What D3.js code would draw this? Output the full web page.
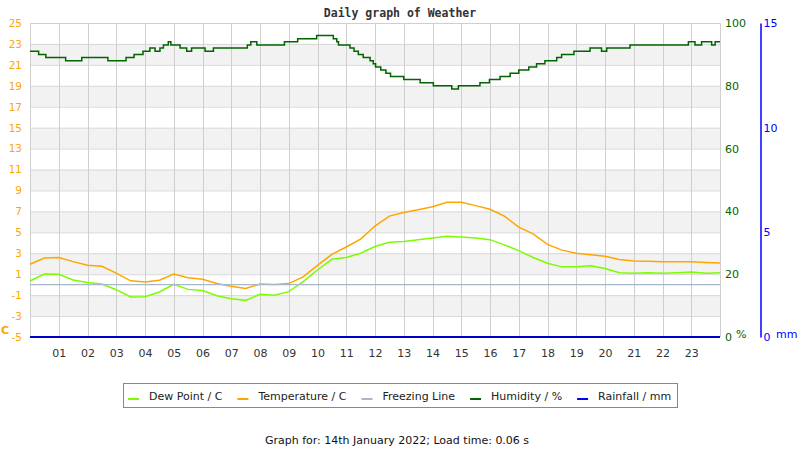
<!DOCTYPE html>
<html>
<head>
<meta charset="utf-8">
<script src="https://cdn.jsdelivr.net/npm/d3@7"></script>
<style>
  body { margin: 0; background: #fff; }
  svg text { font-family: "DejaVu Sans", sans-serif; }
</style>
</head>
<body>
<div id="chart"></div>
<script>
// half-hourly readings, hours since midnight
const hours = d3.range(0, 24.5, 0.5);
const temperature = [1.95, 2.55, 2.6, 2.2, 1.85, 1.75, 1.1, 0.37, 0.26, 0.43, 1.02, 0.66, 0.52, 0.12, -0.15, -0.36,
  0.06, 0.02, 0.1, 0.75, 1.85, 2.9, 3.6, 4.35, 5.6, 6.55, 6.9, 7.15, 7.45, 7.88, 7.88, 7.55,
  7.2, 6.55, 5.5, 4.85, 3.85, 3.3, 3.0, 2.85, 2.72, 2.4, 2.25, 2.23, 2.2, 2.18, 2.18, 2.12, 2.08];
const dewPoint = [0.35, 1.02, 1.0, 0.45, 0.2, 0.06, -0.48, -1.18, -1.15, -0.7, 0.03, -0.45, -0.55, -1.05, -1.35, -1.5,
  -0.92, -1.0, -0.67, 0.3, 1.4, 2.42, 2.6, 3.0, 3.65, 4.05, 4.12, 4.28, 4.45, 4.62, 4.55, 4.45,
  4.3, 3.8, 3.25, 2.6, 2.05, 1.7, 1.72, 1.8, 1.55, 1.15, 1.1, 1.15, 1.1, 1.15, 1.22, 1.1, 1.15];

// humidity changes (step series)
const humidityTimes = [0, 0.3, 0.55, 1.24, 1.8, 2.71, 3.34, 3.62, 3.93, 4.17, 4.35, 4.52, 4.64, 4.81, 4.9, 5.22,
  5.45, 5.62, 6.09, 6.38, 7.56, 7.68, 7.89, 8.85, 9.31, 9.97, 10.55, 10.67, 10.73, 11.13, 11.27, 11.42,
  11.59, 11.83, 11.94, 12.02, 12.2, 12.38, 12.54, 13.0, 13.57, 14.03, 14.67, 14.9, 15.65, 15.98, 16.35, 16.7,
  17.0, 17.35, 17.62, 17.91, 18.32, 18.49, 18.92, 19.48, 19.88, 20.06, 20.87, 22.9, 23.13, 23.36, 23.71, 23.83, 24];
const humidity = [91, 90, 89, 88, 89, 88, 89, 90, 91, 92, 91, 92, 93, 94, 93, 92,
  91, 92, 91, 92, 93, 94, 93, 94, 95, 96, 95, 94, 93, 92, 91, 90,
  89, 88, 87, 86, 85, 84, 83, 82, 81, 80, 79, 80, 81, 82, 83, 84,
  85, 86, 87, 88, 89, 90, 91, 92, 91, 92, 93, 94, 93, 94, 93, 94, 94];

const rainTimes = [0, 24];
const rainfall = [0, 0];

const tempTicks = d3.range(-5, 26, 2);
const humTicks = [0, 20, 40, 60, 80, 100];
const rainTicks = [0, 5, 10, 15];
const hourTicks = d3.range(1, 24);

const series = [
  { name: "Dew Point / C", color: "#7cfc00" },
  { name: "Temperature / C", color: "#ffa500" },
  { name: "Freezing Line", color: "#a7b7cc" },
  { name: "Humidity / %", color: "#006400" },
  { name: "Rainfall / mm", color: "#0000ff" }
];

const W = 800, H = 450;
const plot = { left: 30, right: 720, top: 23, bottom: 337 };

const svg = d3.select("#chart").append("svg")
    .attr("width", W)
    .attr("height", H);

const x = d3.scaleLinear().domain([0, 24]).range([plot.left, plot.right]);
const yT = d3.scaleLinear().domain([-5, 25]).range([plot.bottom, plot.top]);
const yH = d3.scaleLinear().domain([0, 100]).range([plot.bottom, plot.top]);
const yR = d3.scaleLinear().domain([0, 15]).range([plot.bottom, plot.top]);

// alternating bands
const bands = d3.range(-5, 25, 2);
svg.append("g").selectAll("rect")
  .data(bands)
  .join("rect")
    .attr("x", plot.left)
    .attr("width", plot.right - plot.left)
    .attr("y", d => yT(d + 2))
    .attr("height", d => yT(d) - yT(d + 2))
    .attr("fill", (d, i) => i % 2 ? "#f2f2f2" : "#fff");

// grid
svg.append("g").selectAll("line")
  .data(tempTicks.filter(d => d > -5))
  .join("line")
    .attr("x1", plot.left).attr("x2", plot.right)
    .attr("y1", d => yT(d) + 0.5).attr("y2", d => yT(d) + 0.5)
    .attr("stroke", "#d8d8d8");

svg.append("g").selectAll("line")
  .data(hourTicks)
  .join("line")
    .attr("x1", d => Math.round(x(d)) + 0.5).attr("x2", d => Math.round(x(d)) + 0.5)
    .attr("y1", plot.top).attr("y2", plot.bottom)
    .attr("stroke", "#cfcfcf");

svg.append("path")
  .attr("d", `M${plot.left + 0.5},${plot.bottom}V${plot.top + 0.5}H${plot.right + 0.5}V${plot.bottom}`)
  .attr("fill", "none")
  .attr("stroke", "#cfcfcf");

// left axis (temperature) - plain hyphen minus like the original
const leftAxis = svg.append("g")
    .attr("transform", `translate(${plot.left - 8},0)`)
    .call(d3.axisLeft(yT).tickValues(tempTicks).tickFormat(d => String(d)).tickSize(0).tickPadding(0));
leftAxis.select(".domain").remove();
leftAxis.selectAll("text").attr("fill", "#ffa500").style("font-size", "10.5px");

svg.append("text")
    .attr("x", 1).attr("y", 334)
    .attr("fill", "#ffa500")
    .style("font-size", "11px").style("font-weight", "bold")
    .text("C");

// right axis (humidity)
const humAxis = svg.append("g")
    .attr("transform", `translate(${plot.right + 5},0)`)
    .call(d3.axisRight(yH).tickValues(humTicks).tickSize(0).tickPadding(0));
humAxis.select(".domain").remove();
humAxis.selectAll("text").attr("fill", "#006400").style("font-size", "11px");

svg.append("text")
    .attr("x", 736).attr("y", 338)
    .attr("fill", "#006400")
    .style("font-size", "11px")
    .text("%");

// rainfall axis
const rainAxis = svg.append("g")
    .attr("transform", `translate(760.5,0)`)
    .call(d3.axisRight(yR).tickValues(rainTicks).tickSize(0).tickPadding(3));
rainAxis.select(".domain").attr("stroke", "#0000ff").attr("stroke-width", 1.5);
rainAxis.selectAll("text").attr("fill", "#0000ff").style("font-size", "11px");

svg.append("text")
    .attr("x", 776).attr("y", 338)
    .attr("fill", "#0000ff")
    .style("font-size", "11px")
    .text("mm");

// x axis labels
const xAxis = svg.append("g")
    .attr("transform", `translate(0,${plot.bottom})`)
    .call(d3.axisBottom(x).tickValues(hourTicks).tickFormat(d3.format("02d")).tickSize(0).tickPadding(12));
xAxis.select(".domain").remove();
xAxis.selectAll("text").attr("fill", "#333").style("font-size", "11px");

// lines
const tempLine = d3.line().x((d, i) => x(hours[i])).y(d => yT(d));

svg.append("path")
    .datum(dewPoint)
    .attr("d", tempLine)
    .attr("fill", "none")
    .attr("stroke", series[0].color)
    .attr("stroke-width", 1.5);

svg.append("path")
    .datum(temperature)
    .attr("d", tempLine)
    .attr("fill", "none")
    .attr("stroke", series[1].color)
    .attr("stroke-width", 1.5);

svg.append("line")
    .attr("x1", x(0)).attr("x2", x(24))
    .attr("y1", yT(0)).attr("y2", yT(0))
    .attr("stroke", series[2].color)
    .attr("stroke-width", 1.2);

svg.append("path")
    .datum(humidity)
    .attr("d", d3.line().curve(d3.curveStepAfter).x((d, i) => x(humidityTimes[i])).y(d => yH(d)))
    .attr("fill", "none")
    .attr("stroke", series[3].color)
    .attr("stroke-width", 1.5);

svg.append("path")
    .datum(rainfall)
    .attr("d", d3.line().x((d, i) => x(rainTimes[i])).y(d => yR(d)))
    .attr("fill", "none")
    .attr("stroke", "#0000cc")
    .attr("stroke-width", 2);

// title
svg.append("text")
    .attr("x", 400).attr("y", 17)
    .attr("text-anchor", "middle")
    .attr("fill", "#333")
    .style("font-family", "'DejaVu Sans Mono', monospace")
    .style("font-size", "11.5px").style("font-weight", "bold")
    .text("Daily graph of Weather");

// legend
const legend = svg.append("g");
legend.append("rect")
    .attr("x", 123.5).attr("y", 383.5)
    .attr("width", 554).attr("height", 24)
    .attr("fill", "#fff")
    .attr("stroke", "#888");

let lx = 128;
series.forEach(s => {
  legend.append("line")
      .attr("x1", lx).attr("x2", lx + 11)
      .attr("y1", 399).attr("y2", 399)
      .attr("stroke", s.color)
      .attr("stroke-width", 2);
  const t = legend.append("text")
      .attr("x", lx + 21).attr("y", 400)
      .attr("fill", "#222")
      .style("font-size", "11px")
      .text(s.name);
  lx += 21 + t.node().getComputedTextLength() + 15;
});

svg.append("text")
    .attr("x", 397).attr("y", 444)
    .attr("text-anchor", "middle")
    .attr("fill", "#111")
    .style("font-size", "11px")
    .text("Graph for: 14th January 2022; Load time: 0.06 s");
</script>
</body>
</html>
